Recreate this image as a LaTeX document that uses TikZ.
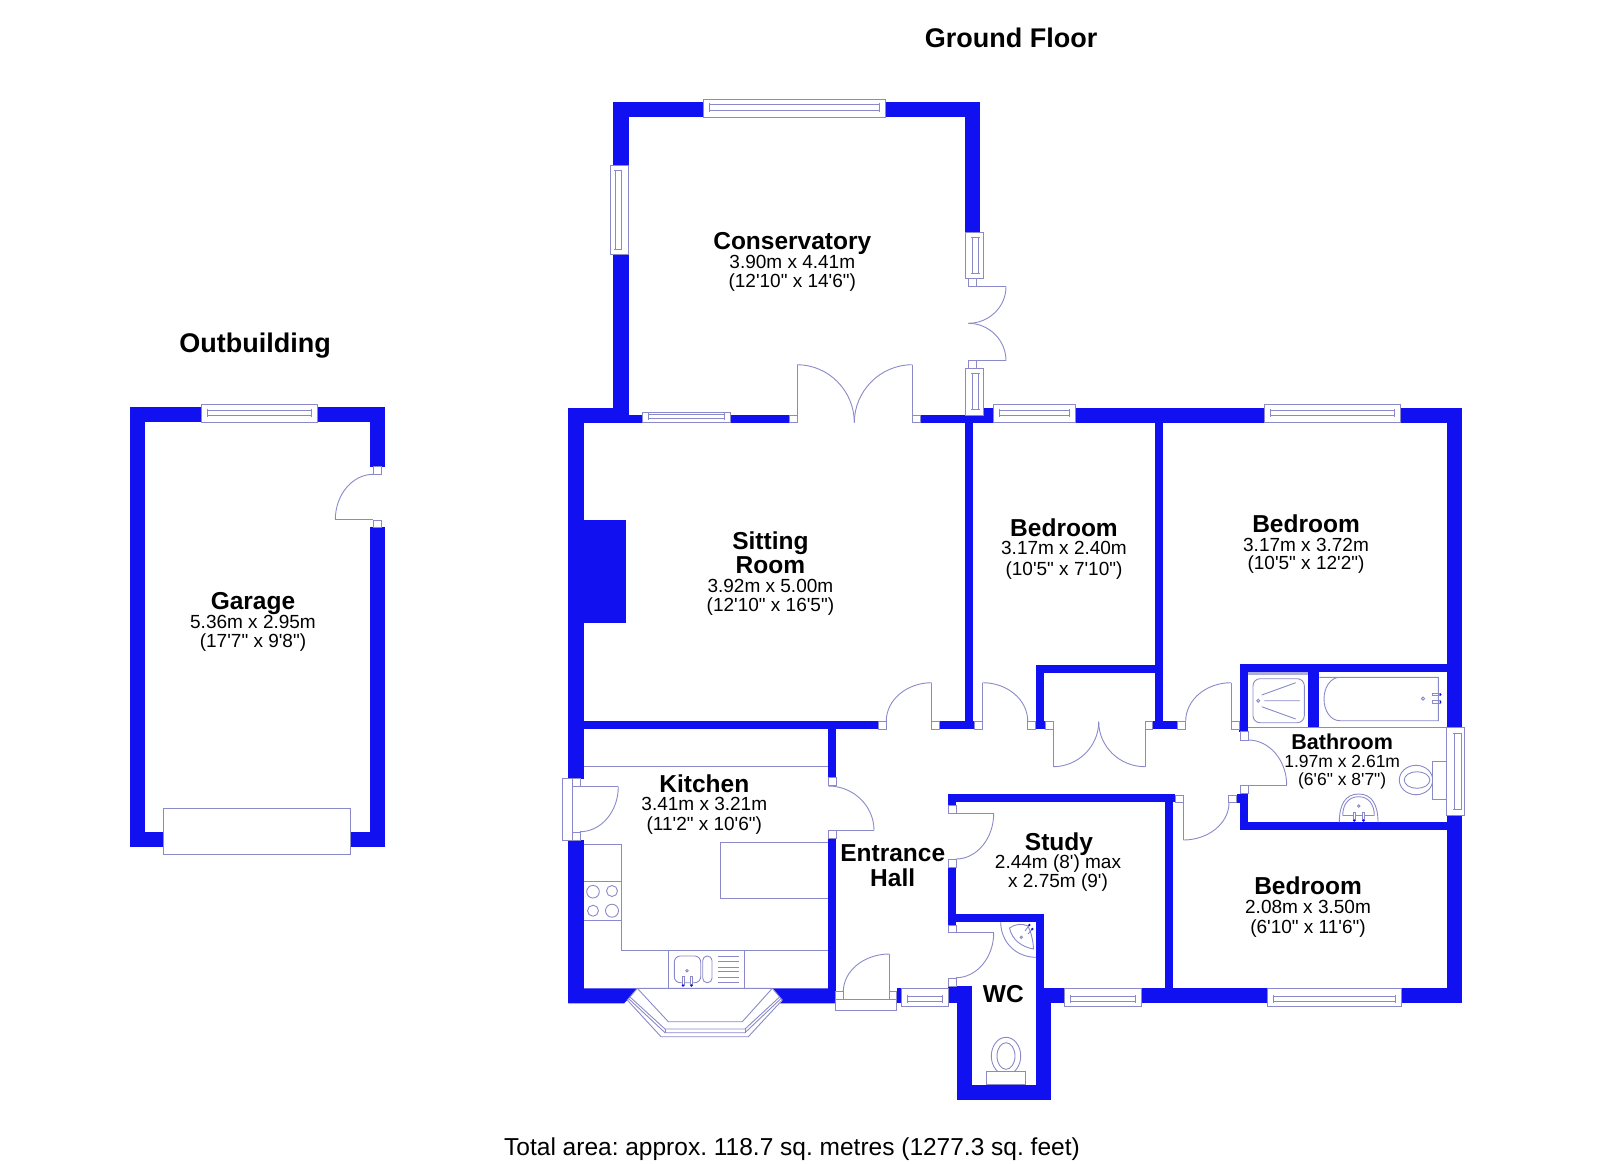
\documentclass[tikz,border=0pt]{standalone}
\usepackage{fontspec}
\setmainfont{Liberation Sans}[Ligatures=TeXOff]
\frenchspacing
\definecolor{wallblue}{HTML}{1010F0}
\definecolor{fixline}{HTML}{8A8ACA}
\tikzset{
  wall/.style={fill=wallblue,draw=none},
  fix/.style={draw=fixline,line width=0.9pt,line join=miter},
  fixw/.style={fix,fill=white},
  dot/.style={fill=wallblue,draw=none},
  title/.style={font=\fontsize{24.5}{24.5}\selectfont\bfseries,anchor=base,inner sep=0pt,text=black,yshift=-1pt},
  dims/.style={font=\fontsize{19}{19}\selectfont,anchor=base,inner sep=0pt,text=black},
  btitle/.style={font=\fontsize{21.5}{21.5}\selectfont\bfseries,anchor=base,inner sep=0pt,text=black},
  bdims/.style={font=\fontsize{17.5}{17.5}\selectfont,anchor=base,inner sep=0pt,text=black},
  head/.style={font=\fontsize{27}{27}\selectfont\bfseries,anchor=base,inner sep=0pt,text=black},
  foot/.style={font=\fontsize{24.5}{24.5}\selectfont,anchor=base,inner sep=0pt,text=black}
}
\newcommand{\wl}[4]{\fill[wall] (#1,#2) rectangle (#3,#4);}
\newcommand{\jb}[4]{\draw[fixw] (#1,#2) rectangle (#3,#4);}
% door swing: starts vertical at (1,2), ends horizontal at (3,4)
\newcommand{\swing}[4]{\draw[fix] (#1,#2) .. controls ({#1},{#2+.55*(#4-#2)}) and ({#3+.55*(#1-#3)},{#4}) .. (#3,#4);}
% horizontal window: x1 x2 ytop ybot line1 line2
\newcommand{\hwin}[6]{\draw[fixw] (#1,#3) rectangle (#2,#4);
  \draw[fix] ({#1+6},#5) -- ({#2-6},#5) ({#1+6},#6) -- ({#2-6},#6) ({#1+6},{#5-1.5}) -- ({#1+6},{#6+1.5}) ({#2-6},{#5-1.5}) -- ({#2-6},{#6+1.5});}
% vertical window: y1 y2 xleft xright line1 line2
\newcommand{\vwin}[6]{\draw[fixw] (#3,#1) rectangle (#4,#2);
  \draw[fix] (#5,{#1+5.5}) -- (#5,{#2-5.5}) (#6,{#1+5.5}) -- (#6,{#2-5.5}) ({#5-1},{#1+5.5}) -- ({#6+1},{#1+5.5}) ({#5-1},{#2-5.5}) -- ({#6+1},{#2-5.5});}
\begin{document}
\begin{tikzpicture}[x=1pt,y=-1pt]
\useasboundingbox (0,0) rectangle (1600,1163);
\fill[white] (0,0) rectangle (1600,1163);
%% GARAGE
\wl{129.7}{407.3}{201.3}{422.3}
\wl{317.3}{407.3}{385.3}{422.3}
\wl{129.7}{407.3}{145.3}{846.7}
\wl{369.7}{407.3}{385.3}{466.7}
\wl{369.7}{527.3}{385.3}{846.7}
\wl{129.7}{831.7}{163}{846.7}
\wl{350}{831.7}{385.3}{846.7}
\hwin{201.3}{317.3}{404.3}{422.3}{410}{415}
\jb{373.3}{466.7}{381.7}{474.3}
\jb{373.3}{520}{381.7}{527.3}
\swing{335.3}{519.7}{373.3}{474.3}
\draw[fix] (335.3,519.7) -- (373.3,519.7);
\draw[fixw] (163,808.3) rectangle (350,854.3);
%% CONSERVATORY
\wl{613.3}{102.3}{703.3}{117.3}
\wl{885.3}{102.3}{980.3}{117.3}
\wl{613.3}{102.3}{628.7}{165.3}
\wl{613.3}{254.7}{628.7}{422.7}
\wl{965}{102.3}{980.3}{232.3}
\hwin{703.3}{885.3}{99.3}{117.3}{104}{110}
\vwin{165.3}{254.7}{610.7}{628.7}{615.3}{621.3}
\vwin{232.3}{278.7}{965}{983}{972}{978.7}
\jb{968.3}{278.7}{976.7}{286.7}
\jb{968.3}{360.7}{976.7}{368}
\draw[fix] (976.7,286.7) -- (1006,286.7);
\draw[fix] (976.7,360.7) -- (1006,360.7);
\swing{1006}{286.7}{968.3}{323.3}
\swing{1006}{360.7}{968.3}{323.3}
%% HOUSE OUTER TOP
\wl{568.3}{407.5}{613.3}{422.7}
\wl{628}{415}{642.3}{422.7}
\wl{730.7}{415}{789.3}{422.7}
\wl{920}{415}{993.3}{422.7}
\wl{983}{407.5}{993.3}{422.7}
\wl{1075}{407.5}{1264}{422.5}
\wl{1400.3}{407.5}{1462}{422.5}
\vwin{368}{415}{965}{983}{972}{978.7}
\hwin{642.3}{730.7}{412.3}{422.7}{414.3}{418.7}
\jb{789.3}{415}{797}{422.7}
\jb{912.3}{415}{920}{422.7}
\draw[fix] (797,422.7) -- (797,364.7);
\draw[fix] (912.3,422.7) -- (912.3,364.7);
\swing{854.3}{422.7}{797}{364.7}
\swing{854.3}{422.7}{912.3}{364.7}
\hwin{993.3}{1075}{404.3}{422.5}{410}{415}
\hwin{1264}{1400.3}{404.3}{422.5}{410}{415}
%% OUTER LEFT, RIGHT
\wl{568.3}{407.5}{584}{778.7}
\wl{568.3}{840}{584}{1003.3}
\wl{584}{520.3}{626.3}{623.3}
\wl{1446.7}{407.5}{1462.3}{727.7}
\wl{1446.7}{815.3}{1462.3}{1003.3}
%% INTERIOR WALLS
\wl{584}{721}{878.3}{729}
\wl{939.3}{721}{974.3}{729}
\wl{964.7}{422}{972.7}{729}
\wl{1155.3}{422}{1163.3}{729}
\wl{1036.3}{664.7}{1163.3}{672.7}
\wl{1036.3}{664.7}{1044.3}{729}
\wl{1035.7}{721}{1045}{729}
\wl{1152.7}{721}{1177.7}{729}
\wl{828.3}{721}{836}{777.7}
\wl{828.3}{838.7}{836}{1003.3}
%% BATHROOM WALLS
\wl{1240.3}{664.3}{1446.7}{672.3}
\wl{1240.3}{664.3}{1248.3}{731.7}
\wl{1239}{721}{1248.3}{731.7}
\wl{1308.3}{672.3}{1319.3}{727.3}
\wl{1240.3}{793.3}{1248.3}{830.3}
\wl{1236.7}{794}{1248.3}{802.7}
\wl{1240.3}{822.3}{1446.7}{830.3}
%% STUDY WALLS
\wl{948}{794.3}{1175.3}{802.3}
\wl{948}{794.3}{956}{805.7}
\wl{948}{867}{956}{925}
\wl{948}{914}{1044}{922}
\wl{1036}{914}{1044}{988.3}
\wl{1165}{794.3}{1172.7}{988.3}
%% BOTTOM WALLS
\fill[wall] (568.3,988.3) -- (637.3,988.3) -- (627.3,1000) -- (624,1003.3) -- (568.3,1003.3) -- cycle;
\fill[wall] (772.3,988.3) -- (835.7,988.3) -- (835.7,1003.3) -- (780,1003.3) -- (782.3,1001) -- cycle;
\wl{897.3}{988.3}{901.7}{1003.3}
\wl{948}{986}{972.3}{1003.3}
\wl{957.3}{1003}{972.3}{1100}
\wl{957.3}{1084.7}{1051.3}{1100}
\wl{1036}{988.3}{1051.3}{1100}
\wl{1036}{988.3}{1064.7}{1003.3}
\wl{1141.3}{988.3}{1267.3}{1003.3}
\wl{1401.3}{988.3}{1462.3}{1003.3}
%% WINDOWS BOTTOM AND RIGHT
\hwin{901.7}{948}{988.3}{1006.3}{996}{1001.3}
\hwin{1064.7}{1141.3}{988.3}{1006.3}{996}{1001.3}
\hwin{1267.3}{1401.3}{988.3}{1006.3}{996}{1001.3}
\vwin{727.7}{815.3}{1446.7}{1464.3}{1454.3}{1461}
%% DOORS ALONG HALL
\jb{878.3}{721}{886.3}{729}
\jb{931.7}{721}{939.3}{729}
\draw[fix] (931.7,721) -- (931.7,682.7);
\swing{886.3}{721}{931.7}{682.7}
\jb{974.3}{721}{982.7}{729}
\jb{1027.7}{721}{1035.7}{729}
\draw[fix] (982.7,721) -- (982.7,682.7);
\swing{1027.7}{721}{982.7}{682.7}
\jb{1045}{721}{1053}{729}
\jb{1145}{721}{1152.7}{729}
\draw[fix] (1053,729) -- (1053,766.7);
\draw[fix] (1145,729) -- (1145,766.7);
\swing{1098.7}{721.7}{1053}{766.7}
\swing{1098.7}{721.7}{1145}{766.7}
\jb{1177.7}{721}{1185.7}{729}
\jb{1231}{721}{1239}{729}
\draw[fix] (1231,721) -- (1231,682.7);
\swing{1185.7}{721}{1231}{682.7}
%% BATHROOM DOOR AND BEDROOM 3 DOOR
\jb{1240.3}{731.7}{1248.3}{740}
\jb{1240.3}{785.7}{1248.3}{793.3}
\draw[fix] (1248.3,785.3) -- (1286.7,785.3);
\swing{1286.7}{785.3}{1248.3}{740}
\jb{1175.7}{795}{1183.3}{802.7}
\jb{1228.7}{795}{1236.7}{802.7}
\draw[fix] (1183.3,802.7) -- (1183.3,840);
\swing{1229}{802.7}{1183.3}{840}
%% STUDY AND WC DOORS
\jb{948}{805.7}{956}{813.7}
\jb{948}{859.3}{956}{867}
\draw[fix] (956,813.3) -- (993.7,813.3);
\swing{993.7}{813.3}{956}{859}
\jb{948}{925}{956}{932.7}
\jb{948}{978.3}{956}{986}
\draw[fix] (956,932.7) -- (993.7,932.7);
\swing{993.7}{932.7}{956}{977.7}
%% KITCHEN DOOR, BACK DOOR, FRONT DOOR
\jb{828.3}{777.7}{836}{785.3}
\jb{828.3}{830.7}{836}{838.7}
\draw[fix] (828.3,830.3) -- (874,830.3);
\swing{874}{830.3}{828.3}{786}
\draw[fixw] (562,778.7) rectangle (572.7,840);
\jb{572.7}{778.7}{580}{786.7}
\jb{572.7}{832}{580}{840}
\draw[fix] (580,786.7) -- (618.3,786.7);
\swing{618.3}{786.7}{580}{831.7}
\draw[fixw] (835.7,999.3) rectangle (896.7,1010);
\jb{835.7}{991.7}{843.3}{999.3}
\jb{889.3}{991.7}{896.7}{999.3}
\draw[fix] (889.3,991.7) -- (889.3,954);
\swing{843.3}{991.7}{889.3}{954}
%% KITCHEN FIXTURES
\draw[fix] (584,766.7) -- (828.3,766.7);
\draw[fix] (584,844) -- (621.7,844) -- (621.7,950) -- (828.3,950);
\draw[fix] (584,881.7) -- (621.7,881.7) (584,920.3) -- (621.7,920.3);
\draw[fix] (593,891.7) circle (6.3) (612,891) circle (5.5) (593,910.7) circle (5.5) (612,910.7) circle (6.5);
\draw[fix] (828.3,842.3) -- (720.7,842.3) -- (720.7,898) -- (828.3,898);
\draw[fix] (668.3,950) -- (668.3,988.3) (744.7,950) -- (744.7,988.3);
\draw[fix,rounded corners=6pt] (674.3,956) rectangle (700.7,982.7);
\draw[fix,rounded corners=4.5pt] (702.7,956) rectangle (712,982.7);
\draw[fix] (687,970.7) circle (1.3);
\draw[fixw] (682,976.7) rectangle (684,985) (690.5,976.7) rectangle (692.5,985);
\fill[dot] (683,985.5) circle (1.3) (691.5,985.5) circle (1.3);
\draw[fix] (718.3,956) -- (738.7,956) (718.3,961.7) -- (738.7,961.7) (718.3,967) -- (738.7,967) (718.3,971.7) -- (738.7,971.7) (718.3,977.3) -- (738.7,977.3) (718.3,982.7) -- (738.7,982.7);
%% BAY WINDOW
\draw[fixw] (637.3,988.3) -- (627.3,1000) -- (661,1036.7) -- (748.3,1036.7) -- (782.3,1000) -- (772.3,988.3) -- cycle;
\draw[fix] (637.3,988.3) -- (668.3,1021.7) -- (742.3,1021.7) -- (772.3,988.3);
\draw[fix] (630,997) -- (665,1029) -- (745,1029) -- (779.5,997);
\draw[fix] (628.5,998.5) -- (665,1032.7) -- (745,1032.7) -- (781,998.5);
\draw[fix] (665,1029) -- (665,1032.7) (745,1029) -- (745,1032.7);
%% WC FIXTURES
\draw[fix] (1000.7,922) .. controls (1000.7,942) and (1016,957.3) .. (1036,957.3);
\draw[fix] (1009.5,928) .. controls (1015,924) and (1022,923) .. (1028,926) .. controls (1031,932) and (1033,940) .. (1033.5,949) .. controls (1022,947) and (1012,940) .. (1009.5,928) -- cycle;
\draw[fix] (1021.3,937.3) circle (1.2);
\draw[fix] (1025,931) -- (1029.3,925) (1028,934) -- (1032.3,929);
\fill[dot] (1029.3,925) circle (1.3) (1032.3,929) circle (1.3);
\draw[fix] (1006,1056) ellipse (14.7 and 18.7);
\draw[fix] (1006,1056) ellipse (9 and 13.3);
\draw[fixw] (986.7,1071) rectangle (1025.7,1084.7);
%% BATHROOM FIXTURES
\draw[fix] (1248.3,727.3) -- (1446.7,727.3);
\fill[fixline!70] (1248.3,672.3) rectangle (1308.3,675.3);
\draw[fix,rounded corners=7pt] (1253,678.7) rectangle (1304.3,722.7);
\draw[fix] (1258.3,700.7) circle (1.5);
\draw[fix] (1261.7,695) -- (1295.7,682.7) (1264.3,700.7) -- (1300,700.7) (1261.7,706.7) -- (1295.7,719);
\draw[fix] (1319.3,677.3) -- (1438.3,677.3) -- (1438.3,720.7) -- (1340,720.7) .. controls (1330,720.7) and (1324,710) .. (1324,699) .. controls (1324,688) and (1330,677.3) .. (1340,677.3);
\draw[fix] (1423,698.7) circle (1.6);
\draw[fix] (1432.3,693.3) rectangle (1440,695.6) (1432.3,700.7) rectangle (1440,703.3);
\fill[dot] (1440.5,694.5) circle (1.2) (1440.5,702) circle (1.2);
\draw[fix] (1416,780) ellipse (16.7 and 14.7);
\draw[fix] (1417,780) ellipse (12.8 and 8.3);
\draw[fixw] (1432.3,761) rectangle (1446.7,799.3);
\draw[fix] (1339.3,822.3) .. controls (1339.3,805) and (1345,794) .. (1358.7,794) .. controls (1372,794) and (1378,805) .. (1378,822.3);
\draw[fix] (1342.7,815.7) -- (1374.3,815.7);
\draw[fix] (1342.7,815.7) .. controls (1342.7,805) and (1348,796.7) .. (1358.7,796.7) .. controls (1369,796.7) and (1374.3,805) .. (1374.3,815.7);
\draw[fix] (1358.7,806) circle (1.3);
\draw[fixw] (1353,812.5) rectangle (1355.5,820) (1362.3,812.5) rectangle (1364.8,820);
\fill[dot] (1354.2,820.5) circle (1.3) (1363.5,820.5) circle (1.3);
%% TEXT
\node[head] (tGround) at (1011,47) {Ground Floor};
\node[head] (tOut) at (255,352) {Outbuilding};
\node[foot] (tTotal) at (792,1155) {Total area: approx. 118.7 sq. metres (1277.3 sq. feet)};
\node[title] (cA) at (792.3,248.3) {Conservatory};
\node[dims] (cB) at (792.3,268.3) {3.90m x 4.41m};
\node[dims] (cC) at (792.3,287.3) {(12'10" x 14'6")};
\node[title] (sA) at (770.4,548.5) {Sitting};
\node[title] (sB) at (770.4,572) {Room};
\node[dims] (sC) at (770.4,592.4) {3.92m x 5.00m};
\node[dims] (sD) at (770.4,611.7) {(12'10" x 16'5")};
\node[title] (bA) at (1064,535) {Bedroom};
\node[dims] (bB) at (1064,554.6) {3.17m x 2.40m};
\node[dims] (bC) at (1064,575) {(10'5" x 7'10")};
\node[title] (dA) at (1306,531) {Bedroom};
\node[dims] (dB) at (1306,551.5) {3.17m x 3.72m};
\node[dims] (dC) at (1306,569) {(10'5" x 12'2")};
\node[title] (kA) at (704.3,791.7) {Kitchen};
\node[dims] (kB) at (704.3,810.7) {3.41m x 3.21m};
\node[dims] (kC) at (704.3,830) {(11'2" x 10'6")};
\node[title] (eA) at (892.7,860) {Entrance};
\node[title] (eB) at (892.7,885) {Hall};
\node[title] (yA) at (1059,849.3) {Study};
\node[dims] (yB) at (1058,868.3) {2.44m (8') max};
\node[dims] (yC) at (1058,887.7) {x 2.75m (9')};
\node[title] (wA) at (1003.3,1001.7) {WC};
\node[btitle] (tA) at (1342.2,749.5) {Bathroom};
\node[bdims] (tB) at (1342.2,767.5) {1.97m x 2.61m};
\node[bdims] (tC) at (1342.2,785) {(6'6" x 8'7")};
\node[title] (fA) at (1308,893.4) {Bedroom};
\node[dims] (fB) at (1308,913.8) {2.08m x 3.50m};
\node[dims] (fC) at (1308,933) {(6'10" x 11'6")};
\node[title] (gA) at (253,608.7) {Garage};
\node[dims] (gB) at (253,628) {5.36m x 2.95m};
\node[dims] (gC) at (253,647.5) {(17'7" x 9'8")};
\end{tikzpicture}
\end{document}
